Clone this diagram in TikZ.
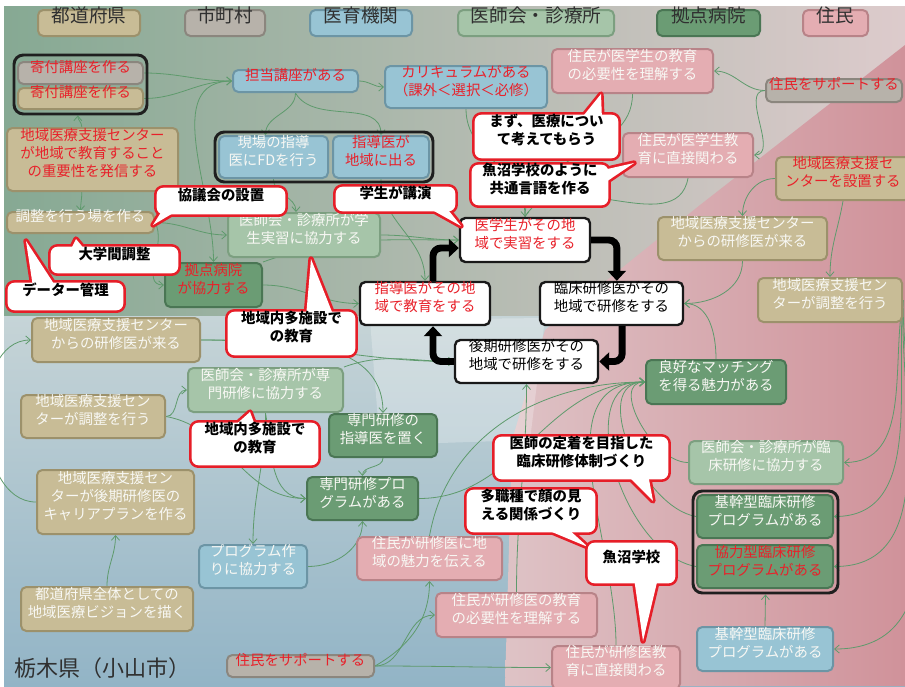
\documentclass[tikz,border=0pt]{standalone}
\usepackage{fontspec}
\newfontfamily\jp{Noto Sans CJK JP}
\usetikzlibrary{fit,arrows.meta,calc}
\definecolor{tanF}{HTML}{C8BC96}
\definecolor{tanD}{HTML}{9C916B}
\definecolor{grayF}{HTML}{B7B2AA}
\definecolor{grayD}{HTML}{8B867E}
\definecolor{blueF}{HTML}{98C4D4}
\definecolor{blueD}{HTML}{6C95A5}
\definecolor{lgF}{HTML}{A6C5A9}
\definecolor{lgD}{HTML}{7C9F80}
\definecolor{grF}{HTML}{6B9C74}
\definecolor{grD}{HTML}{4A7654}
\definecolor{pkF}{HTML}{E4ADB2}
\definecolor{pkD}{HTML}{B88388}
\definecolor{redT}{HTML}{E8212A}
\definecolor{txtW}{HTML}{F8F8F4}
\definecolor{lnG}{HTML}{5E9A6C}
\definecolor{calR}{HTML}{E61E28}
\definecolor{legT}{HTML}{303030}
\definecolor{bgA}{HTML}{86A993}
\definecolor{bgB}{HTML}{DDCBCC}
\definecolor{bgC}{HTML}{C6D4D7}
\definecolor{bgD}{HTML}{92B4C6}
\definecolor{pkA}{HTML}{DEC3C6}
\definecolor{pkB}{HTML}{D0929A}
\pgfdeclarelayer{bg}\pgfdeclarelayer{lines}\pgfdeclarelayer{cshape}\pgfdeclarelayer{ctext}
\pgfsetlayers{bg,lines,main,cshape,ctext}
\tikzset{
 nb/.style={rounded corners=4pt, line width=1.5pt, inner sep=0pt, align=center, text=txtW},
 tanN/.style={nb, fill=tanF, draw=tanD},
 grayN/.style={nb, fill=grayF, draw=grayD},
 blueN/.style={nb, fill=blueF, draw=blueD},
 lgN/.style={nb, fill=lgF, draw=lgD},
 grN/.style={nb, fill=grF, draw=grD},
 pkN/.style={nb, fill=pkF, draw=pkD},
 whN/.style={nb, fill=white, draw=black!90, line width=1.8pt, text=black},
 rt/.style={text=redT},
 lgd/.style={text=legT, font=\jp\fontsize{14}{16}\selectfont},
 grp/.style={rounded corners=7pt, line width=2.2pt, draw=black!88, inner sep=0pt},
 ar/.style={draw=lnG, line width=0.6pt, -{Straight Barb[length=3.5pt,width=6pt]}},
 ln/.style={draw=lnG, line width=0.6pt},
 cyc/.style={draw=black, line width=5.2pt, rounded corners=6pt, -{Triangle[length=7.5pt,width=13.5pt]}},
 ctx/.style={inner sep=0pt, align=center, font=\jp\bfseries\fontsize{10.8}{13.5}\selectfont, text=black},
 cout/.style={draw=calR, line width=4pt, line join=round},
}
\newcommand\callshape[4]{%
 \begin{pgfonlayer}{cshape}
 \draw[cout, rounded corners=5pt] (#1.north west) rectangle (#1.south east);
 \draw[cout] (#2) -- (#3) -- (#4) -- cycle;
 \fill[white, rounded corners=5pt] (#1.north west) rectangle (#1.south east);
 \fill[white] (#2) -- (#3) -- (#4) -- cycle;
 \end{pgfonlayer}}
\begin{document}
\begin{tikzpicture}[x=0.75pt, y=-0.75pt, font=\jp\fontsize{10.8}{13.5}\selectfont]
\useasboundingbox (0,0) rectangle (905,686);
% background
\begin{pgfonlayer}{bg}
\fill[white] (0,0) rectangle (905,686);
\shade[left color=bgA, right color=bgB] (4,6) rectangle (905,316);
\shade[top color=bgC, bottom color=bgD] (4,316) rectangle (905,686);
\shade[left color=pkA, right color=pkB] (505,686) -- (512,440) -- (545,330) -- (700,205) -- (905,45) -- (905,686) -- cycle;
\fill[white, opacity=0.25] (370,320) -- (545,318) -- (530,440) -- (380,445) -- cycle;
\end{pgfonlayer}
% legend
\node[tanN, lgd, fit={(38,10)(140,36)}] (lgA) {都道府県};
\node[grayN, lgd, fit={(185,10)(265,36)}] (lgB) {市町村};
\node[blueN, lgd, fit={(310,10)(412,36)}] (lgC) {医育機関};
\node[lgN, lgd, fit={(458,10)(614,36)}] (lgD) {医師会・診療所};
\node[grN, lgd, fit={(657,10)(760,36)}] (lgE) {拠点病院};
\node[pkN, lgd, fit={(803,10)(868,36)}] (lgF) {住民};
% nodes
\node[grayN, rt, fit={(18,62)(143,84)}] (kifuA) {寄付講座を作る};
\node[tanN, rt, fit={(18,88)(143,109)}] (kifuB) {寄付講座を作る};
\node[grp, fit={(14,55)(147,114)}] (kifuG) {};
\node[tanN, rt, fit={(7,128)(178,191)}] (hasshin) {地域医療支援センター\\が地域で教育すること\\の重要性を発信する};
\node[tanN, fit={(7,212)(154,233)}] (chosei) {調整を行う場を作る};
\node[blueN, rt, fit={(233,70)(358,92)}] (tanto) {担当講座がある};
\node[blueN, rt, fit={(385,66)(547,108)}] (curri) {カリキュラムがある\\（課外＜選択＜必修）};
\node[blueN, fit={(219,136)(328,178)}] (genba) {現場の指導\\医にFDを行う};
\node[blueN, rt, fit={(333,136)(429,178)}] (shidoi) {指導医が\\地域に出る};
\node[grp, fit={(215,132)(433,182)}] (fdG) {};
\node[lgN, fit={(228,213)(380,257)}] (ishiA) {医師会・診療所が学\\生実習に協力する};
\node[grN, rt, fit={(165,263)(262,307)}] (kyoten) {拠点病院\\が協力する};
\node[pkN, fit={(552,49)(713,93)}] (jmA) {住民が医学生の教育\\の必要性を理解する};
\node[grayN, rt, fit={(766,79)(902,102)}] (supA) {住民をサポートする};
\node[pkN, fit={(623,133)(753,177)}] (jmB) {住民が医学生教\\育に直接関わる};
\node[tanN, rt, fit={(776,157)(910,200)}] (setchi) {地域医療支援セ\\ンターを設置する};
\node[tanN, fit={(658,217)(827,260)}] (cenA) {地域医療支援センター\\からの研修医が来る};
\node[tanN, fit={(758,278)(902,322)}] (chR) {地域医療支援セン\\ターが調整を行う};
\node[whN, rt, fit={(460,218)(590,262)}] (igaku) {医学生がその地\\域で実習をする};
\node[whN, rt, fit={(360,282)(490,325)}] (shsono) {指導医がその地\\域で教育をする};
\node[whN, fit={(540,282)(683,325)}] (rinsho) {臨床研修医がその\\地域で研修をする};
\node[whN, fit={(455,340)(598,383)}] (kouki) {後期研修医がその\\地域で研修をする};
\node[tanN, fit={(32,318)(200,362)}] (cenL) {地域医療支援センター\\からの研修医が来る};
\node[lgN, fit={(188,368)(343,412)}] (ishiS) {医師会・診療所が専\\門研修に協力する};
\node[tanN, fit={(21,395)(165,438)}] (chL) {地域医療支援セン\\ターが調整を行う};
\node[grN, fit={(329,414)(437,457)}] (sshido) {専門研修の\\指導医を置く};
\node[grN, fit={(307,477)(418,520)}] (sprog) {専門研修プロ\\グラムがある};
\node[tanN, fit={(37,470)(194,534)}] (career) {地域医療支援セン\\ターが後期研修医の\\キャリアプランを作る};
\node[blueN, fit={(199,545)(307,588)}] (pmake) {プログラム作\\りに協力する};
\node[tanN, fit={(21,587)(193,631)}] (vision) {都道府県全体としての\\地域医療ビジョンを描く};
\node[grN, fit={(646,360)(786,404)}] (match) {良好なマッチング\\を得る魅力がある};
\node[lgN, fit={(689,441)(843,484)}] (ishiR) {医師会・診療所が臨\\床研修に協力する};
\node[grN, fit={(697,495)(833,538)}] (kikanA) {基幹型臨床研修\\プログラムがある};
\node[grN, rt, fit={(697,545)(833,588)}] (kyoryoku) {協力型臨床研修\\プログラムがある};
\node[grp, fit={(693,491)(838,593)}] (progG) {};
\node[blueN, fit={(697,627)(833,671)}] (kikanB) {基幹型臨床研修\\プログラムがある};
\node[pkN, fit={(357,537)(502,580)}] (miryoku) {住民が研修医に地\\域の魅力を伝える};
\node[pkN, fit={(436,593)(597,637)}] (jmC) {住民が研修医の教育\\の必要性を理解する};
\node[grayN, rt, fit={(227,655)(374,677)}] (supB) {住民をサポートする};
\node[pkN, fit={(552,646)(680,689)}] (jmD) {住民が研修医教\\育に直接関わる};
\node[anchor=west, text=legT, font=\jp\fontsize{16.5}{19}\selectfont, inner sep=0pt] (title) at (14,668) {栃木県（小山市）};
% connectors
\begin{pgfonlayer}{lines}
\draw[ar] (kifuA.east) to[out=0,in=180] (tanto.west);
\draw[ar] (kifuB.east) to[out=0,in=180] (tanto.west);
\draw[ar] ([xshift=-8pt]hasshin.north) to[out=90,in=-90] ([xshift=-2pt]kifuG.south);
\draw[ar] ([xshift=-8pt]hasshin.south) to[out=-90,in=90] (chosei.north);
\draw[ar] (chosei.east) to[out=0,in=180] (ishiA.west);
\draw[ar] (chosei.east) to[out=-60,in=180] (kyoten.west);
\draw[ar] (tanto.west) to[out=180,in=90] (kyoten.north);
\draw[ar] (tanto.south) to[out=-90,in=90] ([xshift=-6pt]genba.north);
\draw[ar] (tanto.south) to[out=-60,in=90] (shidoi.north);
\draw[ar] (tanto.east) to[out=0,in=180] (curri.west);
\draw[ar] (curri.south) to[out=-90,in=90] (igaku.north);
\draw[ln] (jmA.south) to[out=-90,in=90] (igaku.north);
\draw[ln] (jmB.south) to[out=-100,in=60] (igaku.north);
\draw[ar] (supA.west) to[out=180,in=0] (jmA.east);
\draw[ar] (supA.west) to[out=180,in=0] (jmB.east);
\draw[ar] (setchi.west) to[out=180,in=90] (cenA.north);
\draw[ar] (setchi.south) to[out=-100,in=90] (chR.north);
\draw[ar] (cenA.south) to[out=-90,in=0] (rinsho.east);
\draw[ar] (match.north) to[out=90,in=0] (rinsho.east);
\draw[ar] (chR.east) to[out=-100,in=0] (ishiR.east);
\draw[ar] (chR.east) to[out=-95,in=0] (kikanA.east);
\draw[ar] (chR.east) to[out=-92,in=0] (kyoryoku.east);
\draw[ar] (chR.east) to[out=-90,in=0] (kikanB.east);
\draw[ar] (kikanB.north) -- (progG.south);
\draw[ar] (ishiR.west) to[out=180,in=180] (match.west);
\draw[ar] (kikanA.west) to[out=170,in=180] (match.west);
\draw[ar] (kyoryoku.west) to[out=170,in=180] (match.west);
\draw[ar] (jmD.north) to[out=90,in=180] (match.west);
\draw[ar] (sprog.east) to[out=0,in=180] (match.west);
\draw[ar] (miryoku.north) to[out=80,in=180] (match.west);
\draw[ar] (jmC.north) to[out=90,in=-90] (kouki.south);
\draw[ar] (cenL.east) to[out=0,in=180] (kouki.west);
\draw[ar] (ishiS.north east) to[out=20,in=180] (kouki.west);
\draw[ar] (ishiA.east) to[out=0,in=180] (igaku.west);
\draw[ar] (kyoten.east) to[out=0,in=180] (shsono.west);
\draw[ar] (kyoten.north east) to[out=20,in=180] (igaku.west);
\draw[ar] (genba.south) to[out=-90,in=90] ([xshift=-6pt]ishiA.north);
\draw[ar] (shidoi.south) to[out=-90,in=90] (shsono.north);
\draw[ar] (career.west) to[out=180,in=180] (cenL.west);
\draw[ar] (vision.north) to[out=90,in=-90] (career.south);
\draw[ar] (chL.east) to[out=0,in=180] (ishiS.west);
\draw[ar] (chL.east) to[out=-10,in=180] (sprog.west);
\draw[ar] (ishiS.south) to[out=-90,in=90] (pmake.north);
\draw[ar] (ishiS.south) to[out=-80,in=180] (sprog.west);
\draw[ar] (cenL.east) to[out=0,in=90] (sshido.north);
\draw[ar] (sshido.south) to[out=-90,in=90] (sprog.north);
\draw[ar] (pmake.east) to[out=0,in=-90] (sprog.south);
\draw[ar] (supB.east) to[out=0,in=180] (jmD.west);
\draw[ar] (supB.east) to[out=0,in=180] (jmC.west);
\draw[ar] (supB.east) to[out=30,in=-90] (miryoku.south);
\end{pgfonlayer}
% cycle
\draw[cyc] (igaku.east) -| ([xshift=4pt]rinsho.north);
\draw[cyc] ([xshift=8pt]rinsho.south) |- (kouki.east);
\draw[cyc] (kouki.west) -| ([xshift=6pt]shsono.south);
\draw[cyc] ([xshift=6pt]shsono.north) |- ([yshift=-6pt]igaku.west);
% callouts
\begin{pgfonlayer}{ctext}
\node[ctx, fit={(157,188)(285,214)}] (kyogi) {協議会の設置};
\node[ctx, fit={(51,247)(178,273)}] (daigaku) {大学間調整};
\node[ctx, fit={(8,283)(123,310)}] (datak) {データー管理};
\node[ctx, fit={(336,187)(455,211)}] (gakusei) {学生が講演};
\node[ctx, fit={(475,115)(618,158)}] (mazu) {まず、医療につい\\て考えてもらう};
\node[ctx, fit={(472,165)(608,205)}] (uonA) {魚沼学校のように\\共通言語を作る};
\node[ctx, fit={(228,312)(355,355)}] (tiikiA) {地域内多施設で\\の教育};
\node[ctx, fit={(192,423)(318,465)}] (tiikiB) {地域内多施設で\\の教育};
\node[ctx, align=left, fit={(495,437)(668,479)}] (teichaku) {医師の定着を目指した\\臨床研修体制づくり};
\node[ctx, fit={(467,490)(595,532)}] (tashoku) {多職種で顔の見\\える関係づくり};
\node[ctx, fit={(588,543)(675,583)}] (uonB) {魚沼学校};
\end{pgfonlayer}
\callshape{kyogi}{165,206}{153,225}{185,206}
\callshape{daigaku}{70,251}{76,239}{86,251}
\callshape{datak}{33,287}{26,241}{56,287}
\callshape{gakusei}{425,206}{461,226}{445,206}
\callshape{mazu}{580,120}{601,94}{602,120}
\callshape{uonA}{603,170}{634,163}{603,184}
\callshape{tiikiA}{306,317}{311,259}{334,317}
\callshape{tiikiB}{232,428}{250,412}{256,428}
\callshape{teichaku}{626,474}{653,501}{648,474}
\callshape{tashoku}{540,527}{588,547}{566,527}
\callshape{uonB}{634,578}{643,641}{658,578}
\end{tikzpicture}
\end{document}
